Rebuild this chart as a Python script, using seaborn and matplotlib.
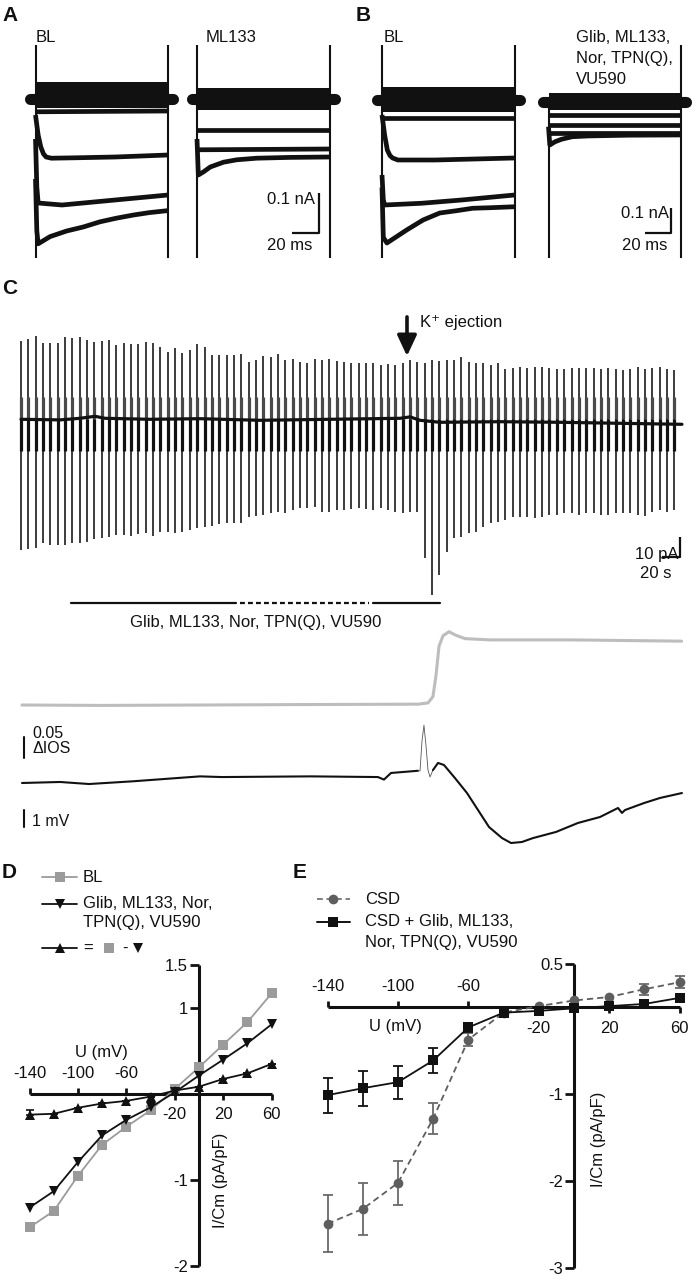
import numpy as np
import pandas as pd
import matplotlib
matplotlib.use("Agg")
import matplotlib.pyplot as plt
from matplotlib.lines import Line2D
import seaborn as sns

# ======================= DATA =======================
# ---- Panels A/B: currents during 100-ms voltage steps (t in ms, I in nA)
step_t = [0, 100]
hold_pre_t = [-4, 0]
hold_post_t = [100, 104]

a1_band = [0.042, -0.022]
a1_t2, a1_i2 = [0, 100], [-0.032, -0.030]
a1_t3 = [0, 2, 4, 6, 8, 12, 30, 60, 100]
a1_i3 = [-0.04, -0.09, -0.12, -0.137, -0.145, -0.148, -0.147, -0.145, -0.14]
a1_t4 = [0, 1, 2, 20, 60, 100]
a1_i4 = [-0.10, -0.22, -0.26, -0.265, -0.2525, -0.24]
a1_t5 = [0, 1, 2, 11, 23.5, 36, 48.7, 61, 74, 86, 100]
a1_i5 = [-0.20, -0.33, -0.362, -0.344, -0.33, -0.32, -0.307, -0.298, -0.29, -0.284, -0.279]

a2_band = [0.0275, -0.0275]
a2_t2, a2_i2 = [0, 100], [-0.0775, -0.0775]
a2_t3, a2_i3 = [0, 100], [-0.127, -0.125]
a2_t4 = [0, 1, 5, 10, 20, 30, 45, 70, 100]
a2_i4 = [-0.10, -0.19, -0.182, -0.17, -0.158, -0.152, -0.148, -0.146, -0.145]

b1_band = [0.053, -0.047]
b1_t2, b1_i2 = [0, 100], [-0.073, -0.073]
b1_t3 = [0, 2, 4, 6, 8, 12, 40, 100]
b1_i3 = [-0.06, -0.14, -0.20, -0.222, -0.232, -0.24, -0.24, -0.232]
b1_t4 = [0, 1, 2, 30, 60, 100]
b1_i4 = [-0.30, -0.40, -0.42, -0.413, -0.40, -0.38]
b1_t5 = [0, 1, 3.7, 18.6, 31, 43.6, 56, 68.6, 81, 100]
b1_i5 = [-0.35, -0.55, -0.572, -0.52, -0.48, -0.452, -0.443, -0.433, -0.431, -0.427]

b2_band = [0.033, -0.033]
b2_t2, b2_i2 = [0, 100], [-0.053, -0.053]
b2_t3, b2_i3 = [0, 100], [-0.093, -0.093]
b2_t4, b2_i4 = [0, 100], [-0.127, -0.127]
b2_t5 = [0, 1, 5, 10, 18, 30, 60, 100]
b2_i5 = [-0.10, -0.173, -0.16, -0.15, -0.14, -0.137, -0.134, -0.133]

# capacitive artefacts at step on/off (nA, clipped by the view)
cap_top_on = [0.5, 0.5, 0.5, 0.02]
cap_top_off = [0.5, 0.5, 0.5, 0.5]
cap_bottom = -1.0

step_titles = ["BL", "ML133", "BL"]
b2_title_lines = ["Glib, ML133,", "Nor, TPN(Q),", "VU590"]

# ---- Panel C: evoked currents every 8 s (pA)
stim_interval = 8.0
spike_tops = [39.0, 40.0, 41.7, 38.0, 38.3, 38.3, 41.0, 40.5, 41.0, 39.7, 38.8, 39.3, 39.7, 37.2, 38.3,
              37.7, 37.7, 38.8, 38.0, 36.3, 33.8, 35.5, 33.0, 34.7, 37.7, 36.0, 32.2, 32.2, 32.2, 32.2,
              32.7, 28.8, 29.7, 31.7, 31.3, 32.7, 29.7, 30.0, 28.8, 28.0, 30.0, 29.7, 30.0, 29.3, 28.8,
              28.0, 28.3, 28.3, 28.0, 27.2, 27.5, 27.2, 28.0, 29.7, 28.8, 28.0, 29.7, 29.3, 29.7, 29.7,
              31.3, 28.8, 28.3, 28.0, 27.2, 28.3, 25.0, 25.5, 26.0, 25.5, 26.3, 26.0, 25.5, 25.0, 25.0,
              25.5, 25.5, 25.5, 25.5, 25.0, 25.5, 25.0, 24.7, 25.0, 26.0, 25.0, 25.5, 26.0, 25.0, 24.7]
spike_bottoms = [-65.3, -65.0, -64.5, -62.0, -62.8, -62.8, -62.8, -62.0, -62.0, -61.2, -60.0, -59.5, -58.7,
                 -57.8, -57.8, -58.3, -57.3, -57.0, -58.3, -56.2, -56.2, -57.0, -56.2, -55.3, -54.5, -53.7,
                 -53.3, -52.3, -52.0, -51.7, -51.7, -48.7, -48.3, -47.8, -47.0, -46.2, -47.0, -45.3, -44.5,
                 -44.5, -43.7, -46.2, -46.2, -45.3, -45.3,
                 -45.0, -44.5, -44.8, -45.3, -44.5, -45.3, -46.2, -46.7, -46.2, -46.2, -69.5, -87.8, -77.8,
                 -66.2, -59.5, -58.7, -57.0, -56.2, -53.7, -52.0, -51.2, -50.3, -48.7, -49.0, -48.7, -49.5,
                 -48.7, -47.8, -47.8, -47.0, -47.0, -47.8, -46.7, -47.0, -47.8, -47.8, -46.7, -47.0, -46.7,
                 -47.8, -48.3, -46.2, -45.3, -46.2, -45.3]
spike_fast_up = 11.0
spike_fast_down = -16.0
base_t = [0, 42.5, 64.3, 80.7, 91.6, 140.6, 195.1, 260.5, 336.8, 413.1, 424.0, 434.9, 456.7, 522.1,
          587.5, 652.9, 720.4]
base_i = [0, -0.3, 0.5, 1.5, 0.5, 0, 0.3, -0.5, 0, 0.5, 1.2, -0.5, -1.5, -1.2, -1.5, -2.0, -2.5]
drug_solid1 = [54.5, 234.3]
drug_dashed = [238.7, 379.3]
drug_solid2 = [383.7, 456.7]
k_ejection_t = 420.7

# intrinsic optical signal (gray) and field potential (black)
ios_t = [1, 86, 200, 300, 433, 443.6, 449, 452.3, 455.6, 460, 466.5, 474, 484, 511, 600, 720]
ios_v = [0, -0.001, 0, 0.001, 0.002, 0.005, 0.02, 0.07, 0.14, 0.165, 0.1745, 0.166, 0.158, 0.155, 0.155, 0.152]
fp_t = [1.1, 42.5, 74.1, 122, 195, 219, 316, 389, 395.6, 403.3, 432.7]
fp_v = [0, 0.06, -0.06, 0.10, 0.39, 0.35, 0.39, 0.35, 0.20, 0.59, 0.72]
fp_loop_t = [432.7, 434.9, 437.1, 439.2, 441.4, 443.6, 445.8, 449.0]
fp_loop_v = [0.72, 0.71, 2.5, 3.4, 2.2, 0.76, 0.35, 0.76]
fp2_t = [449.0, 454.5, 461, 473, 486.1, 498.1, 510.1, 524.3, 534.1, 546, 558, 583.1, 607.1, 631.1,
         650.7, 655, 658.3, 679, 696.5, 720.4]
fp2_v = [0.76, 1.18, 1.06, 0.29, -0.59, -1.59, -2.59, -3.24, -3.53, -3.47, -3.24, -2.88, -2.35, -2.0,
         -1.47, -1.76, -1.59, -1.18, -0.88, -0.59]

# ---- Panel D: I-V (pA/pF)
U = [-140, -120, -100, -80, -60, -40, -20, 0, 20, 40, 60]
D_BL = [-1.55, -1.36, -0.95, -0.59, -0.38, -0.19, 0.06, 0.31, 0.575, 0.835, 1.17]
D_drug = [-1.32, -1.13, -0.79, -0.48, -0.30, -0.155, 0.02, 0.215, 0.40, 0.59, 0.81]
D_diff = [-0.24, -0.23, -0.16, -0.11, -0.08, -0.03, 0.04, 0.085, 0.175, 0.24, 0.35]
D_diff_err = [0.05, 0, 0, 0, 0, 0, 0, 0, 0, 0, 0]

# ---- Panel E: I-V during CSD (mean, SEM)
E_CSD = [-2.49, -2.32, -2.02, -1.28, -0.37, -0.06, 0.015, 0.08, 0.12, 0.21, 0.29]
E_CSD_err = [0.33, 0.30, 0.25, 0.18, 0.07, 0, 0, 0, 0, 0.065, 0.07]
E_CSDD = [-1.01, -0.93, -0.86, -0.61, -0.23, -0.06, -0.04, -0.01, 0.015, 0.04, 0.11]
E_CSDD_err = [0.20, 0.20, 0.19, 0.14, 0.05, 0, 0, 0, 0, 0, 0]

# ======================= STYLE / LAYOUT =======================
sns.set_theme(style="white")
plt.rcParams['font.family'] = ['Liberation Sans', 'DejaVu Sans']
plt.rcParams['axes.unicode_minus'] = False

INK = '#111111'
GRAY_D = '#9b9b9b'
GRAY_E = '#5e5e5e'
W, H = 694, 1280
fig = plt.figure(figsize=(W / 100, H / 100), dpi=100)
fig.patch.set_facecolor('white')


def fx(x):
    return x / W


def fy(y):
    return 1 - y / H


def px_axes(l, t, r, b):
    return fig.add_axes([l / W, 1 - b / H, (r - l) / W, (b - t) / H])


def trace_axes(l, t, r, b, x0, y0, sx, sy):
    ax = px_axes(l, t, r, b)
    ax.set_xlim((l - x0) / sx, (r - x0) / sx)
    ax.set_ylim((y0 - b) / sy, (y0 - t) / sy)
    ax.axis('off')
    return ax


# panel letters
for lab, (x, y) in zip("ABCDE", [(10, 15.5), (363, 15.5), (10, 289), (9, 873), (300, 873)]):
    fig.text(fx(x), fy(y), lab, fontsize=15, fontweight='bold', ha='center', va='center', color=INK)

# ---------------- Panels A/B ----------------
MS_PX = 1.325
step_geo = [((15, 45, 185, 258), 35.5, 99.0, 400.0),
            ((185, 45, 345, 258), 197.0, 99.0, 400.0),
            ((360, 45, 530, 258), 382.0, 100.0, 250.0),
            ((530, 45, 694, 258), 548.5, 101.7, 250.0)]
step_bands = [a1_band, a2_band, b1_band, b2_band]
step_traces = [[(a1_t2, a1_i2), (a1_t3, a1_i3), (a1_t4, a1_i4), (a1_t5, a1_i5)],
               [(a2_t2, a2_i2), (a2_t3, a2_i3), (a2_t4, a2_i4)],
               [(b1_t2, b1_i2), (b1_t3, b1_i3), (b1_t4, b1_i4), (b1_t5, b1_i5)],
               [(b2_t2, b2_i2), (b2_t3, b2_i3), (b2_t4, b2_i4), (b2_t5, b2_i5)]]
step_axes = []
for k, ((box, x0, y0, sy), band, traces) in enumerate(zip(step_geo, step_bands, step_traces)):
    ax = trace_axes(*box, x0, y0, MS_PX, sy)
    step_axes.append(ax)
    ax.fill_between(step_t, band[0], band[1], color=INK, lw=0)
    ax.plot(hold_pre_t, [0, 0], color=INK, lw=8, solid_capstyle='round')
    ax.plot(hold_post_t, [0, 0], color=INK, lw=8, solid_capstyle='round')
    for t, i in traces:
        sns.lineplot(x=t, y=i, ax=ax, color=INK, lw=3.4, sort=False, estimator=None,
                     solid_joinstyle='round', solid_capstyle='butt')
    ax.vlines([step_t[0]], cap_bottom, cap_top_on[k], color=INK, lw=1.5)
    ax.vlines([step_t[1]], cap_bottom, cap_top_off[k], color=INK, lw=1.5)

for lab, (x, y) in zip(step_titles, [(45.5, 38), (230.7, 38), (394, 38)]):
    fig.text(fx(x), fy(y), lab, fontsize=12, ha='center', va='center', color=INK)
for line, y in zip(b2_title_lines, [38, 59, 79]):
    fig.text(fx(575.5), fy(y), line, fontsize=12, ha='left', va='center', color=INK)

# scale bars (20 ms, 0.1 nA)
axA2, axB2 = step_axes[1], step_axes[3]
axA2.plot([92 - 20, 92, 92], [-0.336, -0.336, -0.236], color=INK, lw=1.6, solid_capstyle='butt')
axA2.text(89, -0.25, "0.1 nA", fontsize=12, ha='right', va='center', color=INK)
axA2.text(70, -0.366, "20 ms", fontsize=12, ha='center', va='center', color=INK)
axB2.plot([92.5 - 20, 92.5, 92.5], [-0.526, -0.526, -0.426], color=INK, lw=1.6, solid_capstyle='butt')
axB2.text(91, -0.449, "0.1 nA", fontsize=12, ha='right', va='center', color=INK)
axB2.text(72.5, -0.574, "20 ms", fontsize=12, ha='center', va='center', color=INK)

# ---------------- Panel C ----------------
S_PX = 0.9175
axC = trace_axes(0, 300, 694, 640, 21, 419.3, S_PX, 2.0)
spike_t = np.arange(len(spike_tops)) * stim_interval
axC.vlines(spike_t, spike_bottoms, spike_tops, color=INK, lw=1.15)
axC.vlines(spike_t, 0, spike_fast_up, color='#4a4a4a', lw=2.3)
axC.vlines(spike_t, spike_fast_down, 0, color=INK, lw=2.3)
sns.lineplot(x=base_t, y=base_i, ax=axC, color=INK, lw=2.3, sort=False, estimator=None)
bar_y = -91.85
axC.plot(drug_solid1, [bar_y, bar_y], color=INK, lw=1.6)
axC.plot(drug_dashed, [bar_y, bar_y], color=INK, lw=1.6, ls=(0, (2.2, 1.4)))
axC.plot(drug_solid2, [bar_y, bar_y], color=INK, lw=1.6)
axC.text(256.1, -101.4, "Glib, ML133, Nor, TPN(Q), VU590", fontsize=12, ha='center', va='center', color=INK)
axC.annotate("", xy=(k_ejection_t, 31.6), xytext=(k_ejection_t, 51.2),
             arrowprops=dict(arrowstyle='-|>,head_width=0.42,head_length=0.9', lw=2.6, color=INK,
                             shrinkA=0, shrinkB=0, mutation_scale=14))
axC.text(434.9, 48.2, "K⁺ ejection", fontsize=12, ha='left', va='center', color=INK)
# scale bar 10 pA / 20 s
axC.plot([718.3 - 20, 718.3, 718.3], [-68.85, -68.85, -58.85], color=INK, lw=1.6, solid_capstyle='butt')
axC.text(716.5, -67.4, "10 pA", fontsize=12, ha='right', va='center', color=INK)
axC.text(691.5, -77.1, "20 s", fontsize=12, ha='center', va='center', color=INK)

axIOS = trace_axes(0, 620, 694, 860, 21, 705, S_PX, 420.0)
sns.lineplot(x=ios_t, y=ios_v, ax=axIOS, color='#bdbdbd', lw=2.2, sort=False, estimator=None)
axIOS.plot([3.3, 3.3], [-0.0762, -0.1262], color=INK, lw=1.5, clip_on=False)
axIOS.text(12.0, -0.069, "0.05", fontsize=11.5, ha='left', va='center', color=INK)
axIOS.text(12.0, -0.1025, "ΔIOS", fontsize=11.5, ha='left', va='center', color=INK)

axFP = trace_axes(0, 620, 694, 860, 21, 783, S_PX, 17.0)
sns.lineplot(x=fp_t, y=fp_v, ax=axFP, color=INK, lw=1.5, sort=False, estimator=None)
sns.lineplot(x=fp_loop_t, y=fp_loop_v, ax=axFP, color='#555555', lw=0.6, sort=False, estimator=None)
sns.lineplot(x=fp2_t, y=fp2_v, ax=axFP, color=INK, lw=1.5, sort=False, estimator=None)
axFP.plot([3.3, 3.3], [-1.59, -2.59], color=INK, lw=1.5)
axFP.text(12.0, -2.29, "1 mV", fontsize=11.5, ha='left', va='center', color=INK)


# ---------------- I-V helpers ----------------
def iv_axes(box, yticks, ylabels):
    ax = px_axes(*box)
    ax.set_xlim(-140, 60)
    ax.set_ylim(yticks[-1], yticks[0])
    ax.patch.set_alpha(0)
    ax.spines['top'].set_visible(False)
    ax.spines['right'].set_visible(False)
    for s in ['left', 'bottom']:
        ax.spines[s].set_position(('data', 0))
        ax.spines[s].set_linewidth(2.2)
        ax.spines[s].set_color(INK)
        ax.spines[s].set_capstyle('butt')
    ax.set_yticks(yticks)
    ax.set_yticklabels(ylabels)
    ax.set_xticks([-20, 20, 60])
    ax.set_xticklabels(['-20', '20', '60'])
    ax.tick_params(axis='y', direction='out', length=6.5, width=2.0, color=INK, labelsize=12,
                   labelcolor=INK, pad=1.5, left=True)
    ax.tick_params(axis='x', direction='out', length=4.5, width=2.0, color=INK, labelsize=12,
                   labelcolor=INK, pad=5.0, bottom=True)
    sec = ax.secondary_xaxis(0, transform=ax.transData)
    sec.set_alignment('top')
    sec.spines['top'].set_visible(False)
    sec.set_xticks([-140, -100, -60])
    sec.set_xticklabels(['-140', '-100', '-60'])
    sec.tick_params(axis='x', direction='out', length=4.5, width=2.0, color=INK, labelsize=12,
                    labelcolor=INK, pad=5.0, top=True)
    return ax


# ---------------- Panel D ----------------
axD = iv_axes((29.6, 965, 271.6, 1266), [1.5, 1, -1, -2], ['1.5', '1', '-1', '-2'])
dfD = pd.DataFrame({'U': U * 3, 'I': D_BL + D_drug + D_diff,
                    'cond': ['BL'] * 11 + ['drug'] * 11 + ['diff'] * 11})
axD.errorbar(U, D_diff, yerr=[np.zeros(11), D_diff_err], fmt='none', ecolor=INK, elinewidth=1.2,
             capsize=3.2, capthick=1.2, clip_on=False, zorder=2)
sns.lineplot(data=dfD, x='U', y='I', hue='cond', style='cond',
             palette={'BL': GRAY_D, 'drug': INK, 'diff': INK},
             markers={'BL': 's', 'drug': 'v', 'diff': '^'}, dashes=False,
             markersize=6.5, markeredgewidth=0, lw=1.3, ax=axD, legend=False, clip_on=False, zorder=3)
axD.set_xlabel("U (mV)", fontsize=12, color=INK)
axD.xaxis.set_label_coords(fx(101.7), fy(1053), transform=fig.transFigure)
axD.xaxis.label.set_va('center')
axD.set_ylabel("I/Cm (pA/pF)", fontsize=12, color=INK)
axD.yaxis.set_label_coords(fx(220.5), fy(1180), transform=fig.transFigure)
axD.yaxis.label.set_va('center')


# legend D (drawn by hand to keep the original layout)
def leg_line(x0, x1, y, color, marker, ms, ls='-'):
    fig.add_artist(Line2D([fx(x0), fx((x0 + x1) / 2), fx(x1)], [fy(y)] * 3, transform=fig.transFigure,
                          color=color, lw=1.3, ls=ls, marker=marker, markevery=[1], markersize=ms,
                          markeredgewidth=0))


leg_line(42, 77, 877, GRAY_D, 's', 6.5)
fig.text(fx(83), fy(877), "BL", fontsize=12, ha='left', va='center', color=INK)
leg_line(42, 77, 904, INK, 'v', 6.5)
fig.text(fx(83), fy(904), "Glib, ML133, Nor,", fontsize=12, ha='left', va='center', color=INK)
fig.text(fx(83), fy(923), "TPN(Q), VU590", fontsize=12, ha='left', va='center', color=INK)
leg_line(42, 77, 948, INK, '^', 6.5)
fig.text(fx(83), fy(948), "=", fontsize=12, ha='left', va='center', color=INK)
fig.add_artist(Line2D([fx(109)], [fy(948)], transform=fig.transFigure, marker='s', color=GRAY_D,
                      markersize=6.5, markeredgewidth=0, lw=0))
fig.text(fx(122), fy(948), "-", fontsize=12, ha='left', va='center', color=INK)
fig.add_artist(Line2D([fx(138)], [fy(948)], transform=fig.transFigure, marker='v', color=INK,
                      markersize=6.5, markeredgewidth=0, lw=0))

# ---------------- Panel E ----------------
axE = iv_axes((327.6, 964, 679.6, 1268), [0.5, -1, -2, -3], ['0.5', '-1', '-2', '-3'])
U_arr = np.array(U)
for y, e, col in [(E_CSD, E_CSD_err, '#6a6a6a'), (E_CSDD, E_CSDD_err, INK)]:
    y = np.array(y)
    e = np.array(e)
    m = e > 0
    axE.errorbar(U_arr[m], y[m], yerr=e[m], fmt='none', ecolor=col, elinewidth=1.3, capsize=3.6,
                 capthick=1.3, clip_on=False, zorder=2)
dfE = pd.DataFrame({'U': U * 2, 'I': E_CSD + E_CSDD, 'cond': ['CSD'] * 11 + ['CSD+drug'] * 11})
sns.lineplot(data=dfE, x='U', y='I', hue='cond', style='cond',
             palette={'CSD': GRAY_E, 'CSD+drug': INK},
             markers={'CSD': 'o', 'CSD+drug': 's'}, dashes={'CSD': (3.5, 2.2), 'CSD+drug': ''},
             markersize=7, markeredgewidth=0, lw=1.3, ax=axE, legend=False, clip_on=False, zorder=3)
axE.set_xlabel("U (mV)", fontsize=12, color=INK)
axE.xaxis.set_label_coords(fx(395.5), fy(1026.5), transform=fig.transFigure)
axE.xaxis.label.set_va('center')
axE.set_ylabel("I/Cm (pA/pF)", fontsize=12, color=INK)
axE.yaxis.set_label_coords(fx(599), fy(1139), transform=fig.transFigure)
axE.yaxis.label.set_va('center')

fig.add_artist(Line2D([fx(317), fx(333), fx(350)], [fy(899)] * 3, transform=fig.transFigure,
                      color='#6a6a6a', lw=1.2, ls=(0, (3.5, 2.2)), marker='o', markevery=[1],
                      markersize=7, markerfacecolor=GRAY_E, markeredgewidth=0))
fig.text(fx(365), fy(899), "CSD", fontsize=12, ha='left', va='center', color=INK)
fig.add_artist(Line2D([fx(317), fx(333), fx(350)], [fy(922)] * 3, transform=fig.transFigure,
                      color=INK, lw=1.4, marker='s', markevery=[1], markersize=7, markeredgewidth=0))
fig.text(fx(365), fy(922), "CSD + Glib, ML133,", fontsize=12, ha='left', va='center', color=INK)
fig.text(fx(365), fy(942), "Nor, TPN(Q), VU590", fontsize=12, ha='left', va='center', color=INK)

fig.savefig("out.png", dpi=100, facecolor='white')
